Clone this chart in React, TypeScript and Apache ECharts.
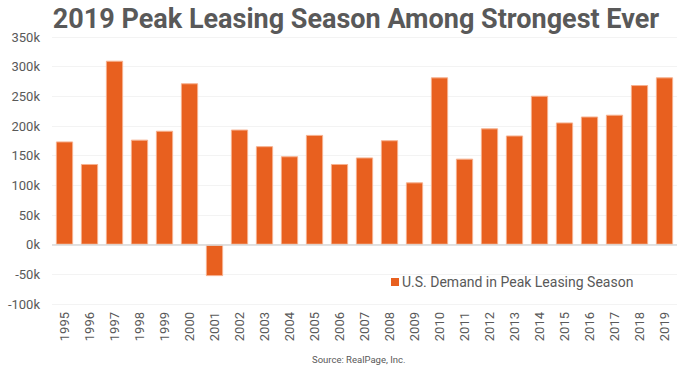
import React, { useEffect, useRef } from "react";
import * as echarts from "echarts";

const years = ["1995","1996","1997","1998","1999","2000","2001","2002","2003","2004","2005","2006","2007","2008","2009","2010","2011","2012","2013","2014","2015","2016","2017","2018","2019"];
const demand = [174000,136000,310000,177000,192000,272000,-53000,194000,166000,149000,185000,136000,147000,176000,105000,282000,145000,196000,184000,251000,206000,216000,219000,269000,282000];
const seriesName = "U.S. Demand in Peak Leasing Season";
const titleText = "2019 Peak Leasing Season Among Strongest Ever";
const sourceText = "Source: RealPage, Inc.";

export default function App() {
  const ref = useRef<HTMLDivElement>(null);
  useEffect(() => {
    if (!ref.current) return;
    const chart = echarts.init(ref.current, null, { renderer: "svg" });
    chart.setOption({
      animation: false,
      backgroundColor: "#ffffff",
      title: {
        text: titleText,
        left: 351,
        textAlign: "center",
        top: 0,
        textStyle: { fontFamily: "Roboto", fontWeight: "bold", fontSize: 27, color: "#595959" },
      },
      legend: {
        left: 386,
        top: 270,
        itemWidth: 8,
        itemHeight: 8,
        itemGap: 4,
        icon: "rect",
        itemStyle: { borderWidth: 0 },
        textStyle: { fontFamily: "Roboto", fontSize: 14, color: "#595959", padding: [0, 0, 0, -2] },
        data: [seriesName],
      },
      graphic: [
        {
          type: "text",
          left: 312,
          top: 354,
          style: { text: sourceText, fontFamily: "Roboto", fontSize: 9.5, fill: "#595959" },
        },
      ],
      grid: { left: 52, right: 3, top: 37, bottom: 63 },
      xAxis: {
        type: "category",
        data: years,
        axisLine: { show: false, onZero: false },
        axisTick: { show: false },
        axisLabel: {
          rotate: 90,
          margin: 8,
          fontFamily: "Roboto",
          fontSize: 13,
          color: "#595959",
        },
      },
      yAxis: {
        type: "value",
        min: -100000,
        max: 350000,
        interval: 50000,
        axisLine: { show: false },
        axisTick: { show: false },
        splitLine: { show: true, lineStyle: { color: "#f3f3f3", width: 1 } },
        axisLabel: {
          margin: 12,
          fontFamily: "Roboto",
          fontSize: 13,
          color: "#595959",
          formatter: (v: number) => `${v / 1000}k`,
        },
      },
      series: [
        {
          name: seriesName,
          type: "bar",
          data: demand,
          barCategoryGap: "31%",
          itemStyle: { color: "#e8601f", borderColor: "#f6b08e", borderWidth: 1 },
          markLine: {
            silent: true,
            symbol: "none",
            label: { show: false },
            lineStyle: { color: "#d9d9d9", width: 1.5, type: "solid" },
            data: [{ yAxis: 0 }],
          },
        },
      ],
    });
    return () => chart.dispose();
  }, []);
  return (
    <div
      ref={ref}
      style={{ position: "fixed", left: 0, top: 0, width: 680, height: 367 }}
    />
  );
}
